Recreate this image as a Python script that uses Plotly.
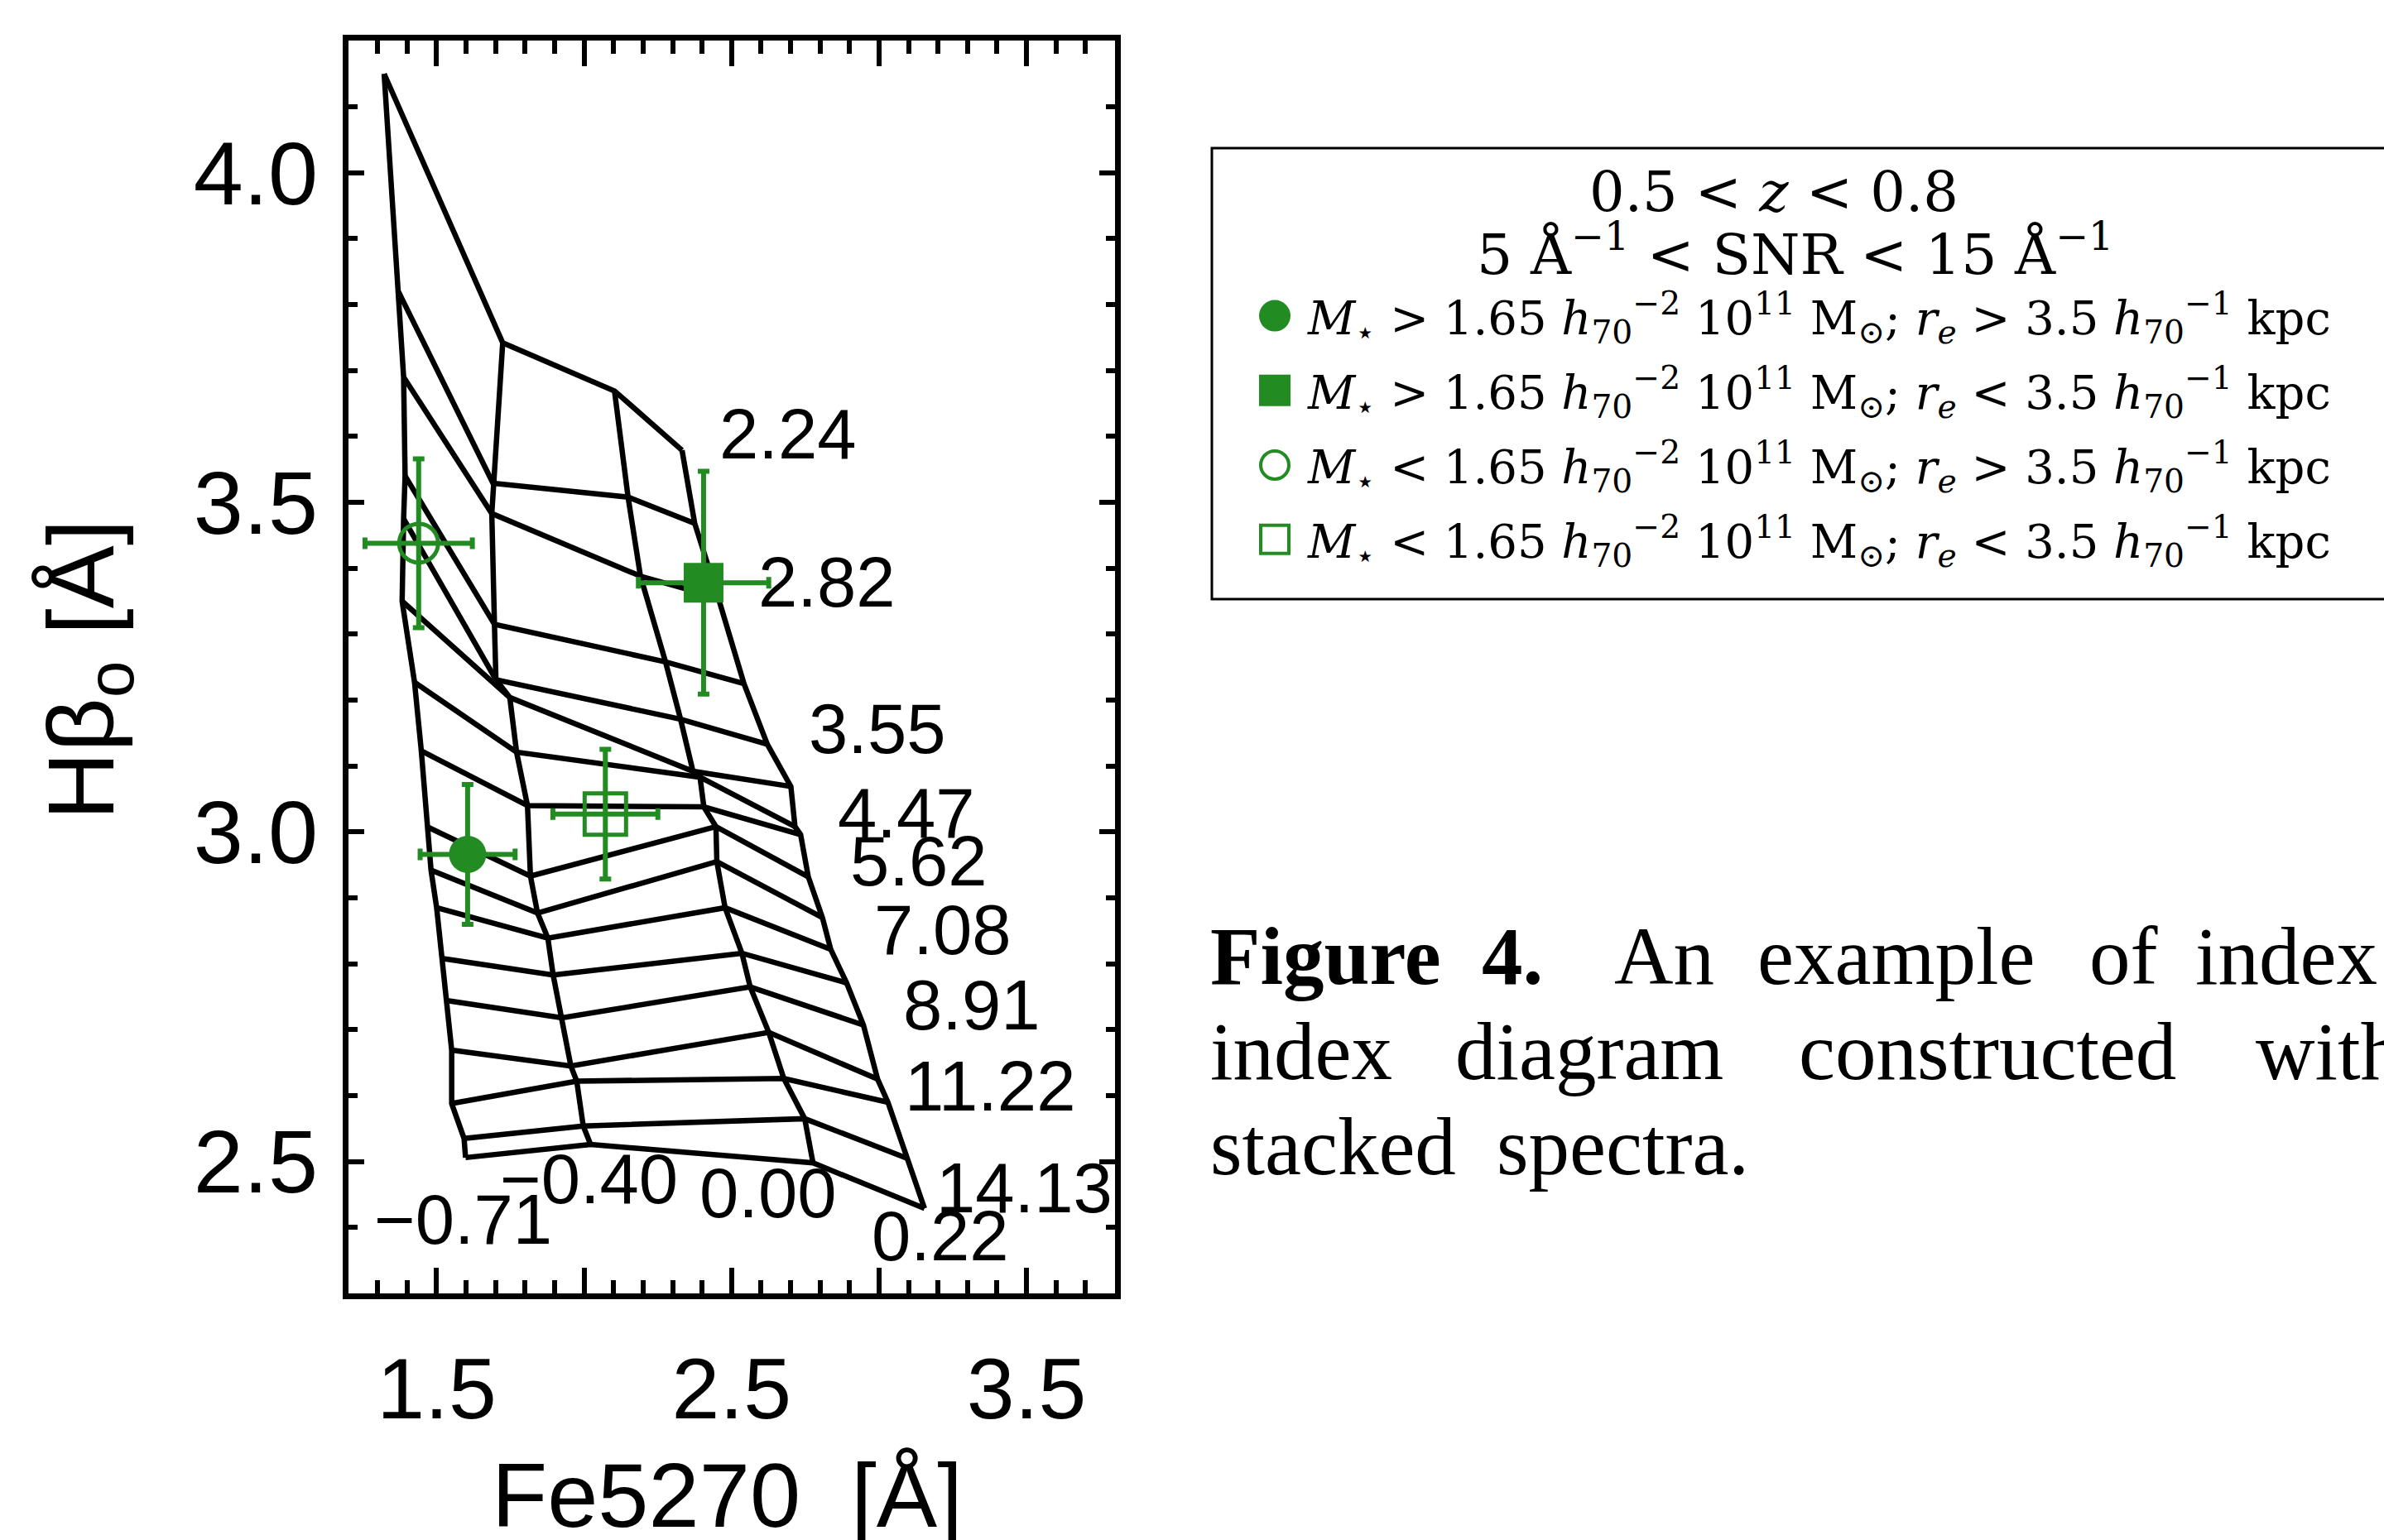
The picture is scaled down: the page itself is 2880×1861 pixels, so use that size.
import plotly.graph_objects as go

W, H = 2880, 1861

# ---------------- data ----------------
# SSP model grid: four metallicity tracks, 17 ages each (young -> old)
Z_LABELS = ["−0.71", "−0.40", "0.00", "0.22"]
FE_M071 = [1.322, 1.369, 1.388, 1.393, 1.388, 1.383, 1.425, 1.448, 1.467, 1.481, 1.500, 1.519, 1.537, 1.551, 1.551, 1.593, 1.598]
HB_M071 = [4.150, 3.821, 3.690, 3.540, 3.475, 3.350, 3.227, 3.123, 3.008, 2.942, 2.885, 2.808, 2.744, 2.669, 2.588, 2.535, 2.506]
FE_M040 = [1.724, 1.691, 1.687, 1.696, 1.701, 1.748, 1.771, 1.808, 1.818, 1.842, 1.877, 1.895, 1.925, 1.955, 1.975, 1.997, 2.022]
HB_M040 = [3.742, 3.529, 3.483, 3.315, 3.231, 3.204, 3.121, 3.040, 2.933, 2.877, 2.839, 2.783, 2.718, 2.645, 2.622, 2.554, 2.526]
FE_P000 = [2.103, 2.149, 2.191, 2.276, 2.327, 2.369, 2.393, 2.406, 2.447, 2.450, 2.478, 2.535, 2.563, 2.626, 2.677, 2.748, 2.776]
HB_P000 = [3.669, 3.508, 3.388, 3.258, 3.171, 3.092, 3.083, 3.038, 3.008, 2.955, 2.885, 2.816, 2.765, 2.696, 2.626, 2.565, 2.498]
FE_P022 = [2.332, 2.375, 2.455, 2.542, 2.621, 2.701, 2.715, 2.734, 2.760, 2.808, 2.836, 2.890, 2.947, 2.995, 3.030, 3.095, 3.154]
HB_P022 = [3.579, 3.468, 3.355, 3.225, 3.133, 3.069, 3.008, 2.996, 2.932, 2.870, 2.822, 2.771, 2.707, 2.625, 2.590, 2.505, 2.429]

# age labels (Gyr) and where they are written
AGE_LABELS = ["2.24", "2.82", "3.55", "4.47", "5.62", "7.08", "8.91", "11.22", "14.13"]
AGE_LABEL_X = [2.452, 2.586, 2.755, 2.853, 2.895, 2.979, 3.077, 3.081, 3.189]
AGE_LABEL_Y = [3.604, 3.379, 3.157, 3.029, 2.956, 2.852, 2.7375, 2.615, 2.460]
Z_LABEL_X = [1.283, 1.708, 2.385, 2.969]
Z_LABEL_Y = [2.4125, 2.474, 2.452, 2.387]

# stacked-spectra measurements
OBS_NAMES = ["big_large", "big_small", "small_large", "small_small"]
OBS_FE = [1.605, 2.405, 1.439, 2.072]
OBS_HB = [2.966, 3.378, 3.438, 3.027]
OBS_FE_ERR = [0.161, 0.221, 0.182, 0.178]
OBS_HB_ERR = [0.106, 0.169, 0.128, 0.0985]

X_TICKS = [1.5, 2.0, 2.5, 3.0, 3.5]
X_TICKTEXT = ["1.5", "", "2.5", "", "3.5"]
Y_TICKS = [2.5, 3.0, 3.5, 4.0]
Y_TICKTEXT = ["2.5", "3.0", "3.5", "4.0"]

# ---------------- styling ----------------
GREEN = "#228B22"
SANS = "Liberation Sans"
SERIF = "DejaVu Serif"
CAPSERIF = "Liberation Serif"
GRID_W = 6.5


def px_x(px):
    return px / W


def px_y(py):
    return 1 - py / H


fig = go.Figure()

columns = [(FE_M071, HB_M071), (FE_M040, HB_M040), (FE_P000, HB_P000), (FE_P022, HB_P022)]
for fe, hb in columns:
    fig.add_trace(go.Scatter(x=fe, y=hb, mode="lines",
                             line=dict(color="black", width=GRID_W),
                             showlegend=False, hoverinfo="skip"))
for i in range(len(FE_M071)):
    fig.add_trace(go.Scatter(x=[c[0][i] for c in columns], y=[c[1][i] for c in columns],
                             mode="lines", line=dict(color="black", width=GRID_W),
                             showlegend=False, hoverinfo="skip"))

symbols = ["circle", "square", "circle-open", "square-open"]
sizes = [45, 48, 47, 50]
for k in range(4):
    fig.add_trace(go.Scatter(
        x=[OBS_FE[k]], y=[OBS_HB[k]], mode="markers", name=OBS_NAMES[k],
        marker=dict(symbol=symbols[k], size=sizes[k], color=GREEN,
                    line=dict(color=GREEN, width=5 if "open" in symbols[k] else 0)),
        error_x=dict(type="data", array=[OBS_FE_ERR[k]], color=GREEN, thickness=6, width=7),
        error_y=dict(type="data", array=[OBS_HB_ERR[k]], color=GREEN, thickness=6, width=7),
        showlegend=False, hoverinfo="skip"))

annotations = []
for txt, x, y in zip(AGE_LABELS, AGE_LABEL_X, AGE_LABEL_Y):
    annotations.append(dict(x=x, y=y, xref="x", yref="y", text=txt, showarrow=False,
                            xanchor="left", yanchor="middle",
                            font=dict(family=SANS, size=85, color="black")))
for txt, x, y in zip(Z_LABELS, Z_LABEL_X, Z_LABEL_Y):
    annotations.append(dict(x=x, y=y, xref="x", yref="y", text=txt, showarrow=False,
                            xanchor="left", yanchor="middle",
                            font=dict(family=SANS, size=85, color="black")))

# axis titles
annotations.append(dict(x=px_x(878), y=px_y(1806), xref="paper", yref="paper",
                        text="Fe5270\u00a0\u00a0[Å]", showarrow=False, xanchor="center", yanchor="middle",
                        font=dict(family=SANS, size=110, color="black")))
annotations.append(dict(x=px_x(106), y=px_y(810), xref="paper", yref="paper",
                        text="Hβ<sub>o</sub>\u00a0[Å]", showarrow=False, textangle=-90,
                        xanchor="center", yanchor="middle",
                        font=dict(family=SANS, size=114, color="black")))

# legend box content
annotations.append(dict(x=px_x(2143), y=px_y(232), xref="paper", yref="paper",
                        text="0.5 < <i>z</i> < 0.8", showarrow=False,
                        xanchor="center", yanchor="middle",
                        font=dict(family=SERIF, size=67, color="black")))
annotations.append(dict(x=px_x(2168), y=px_y(303), xref="paper", yref="paper",
                        text="5 Å<sup>−1</sup> < SNR < 15 Å<sup>−1</sup>", showarrow=False,
                        xanchor="center", yanchor="middle",
                        font=dict(family=SERIF, size=68, color="black")))
entry_texts = [
    "<i>M</i><sub>⋆</sub> > 1.65 <i>h</i><sub>70</sub><sup>−2</sup> 10<sup>11</sup> M<sub>⊙</sub>; <i>r<sub>e</sub></i> > 3.5 <i>h</i><sub>70</sub><sup>−1</sup> kpc",
    "<i>M</i><sub>⋆</sub> > 1.65 <i>h</i><sub>70</sub><sup>−2</sup> 10<sup>11</sup> M<sub>⊙</sub>; <i>r<sub>e</sub></i> < 3.5 <i>h</i><sub>70</sub><sup>−1</sup> kpc",
    "<i>M</i><sub>⋆</sub> < 1.65 <i>h</i><sub>70</sub><sup>−2</sup> 10<sup>11</sup> M<sub>⊙</sub>; <i>r<sub>e</sub></i> > 3.5 <i>h</i><sub>70</sub><sup>−1</sup> kpc",
    "<i>M</i><sub>⋆</sub> < 1.65 <i>h</i><sub>70</sub><sup>−2</sup> 10<sup>11</sup> M<sub>⊙</sub>; <i>r<sub>e</sub></i> < 3.5 <i>h</i><sub>70</sub><sup>−1</sup> kpc",
]
entry_y = [384, 474, 564, 654]
for txt, yy in zip(entry_texts, entry_y):
    annotations.append(dict(x=px_x(1577), y=px_y(yy), xref="paper", yref="paper",
                            text=txt, showarrow=False, xanchor="left", yanchor="middle",
                            font=dict(family=SERIF, size=56, color="black")))

# caption (justified words)
caption = [
    [("<b>Figure</b>", 1460), ("<b>4.</b>", 1788), ("An", 1948), ("example", 2121), ("of", 2522), ("index", 2650)],
    [("index", 1460), ("diagram", 1756), ("constructed", 2171), ("with", 2723)],
    [("stacked", 1460), ("spectra.", 1806)],
]
cap_y = [1155, 1270, 1385]
for words, yy in zip(caption, cap_y):
    for w, xx in words:
        annotations.append(dict(x=px_x(xx), y=px_y(yy), xref="paper", yref="paper",
                                text=w, showarrow=False, xanchor="left", yanchor="middle",
                                font=dict(family=CAPSERIF, size=99, color="black")))

shapes = []
# legend frame (right side runs off the page)
shapes.append(dict(type="rect", xref="paper", yref="paper",
                   x0=px_x(1464), x1=px_x(2960), y0=px_y(724), y1=px_y(179),
                   line=dict(color="black", width=3), fillcolor="rgba(0,0,0,0)"))
# legend symbols
leg_cy = [381.6, 471.8, 562.0, 651.8]
r = 19
for k, cy in enumerate(leg_cy):
    kind = "circle" if "circle" in symbols[k] else "rect"
    filled = "open" not in symbols[k]
    inset = 0 if filled else 2
    shapes.append(dict(type=kind, xref="paper", yref="paper",
                       x0=px_x(1540 - r + inset), x1=px_x(1540 + r - inset),
                       y0=px_y(cy + r - inset), y1=px_y(cy - r + inset),
                       line=dict(color=GREEN, width=0 if filled else 4),
                       fillcolor=GREEN if filled else "rgba(0,0,0,0)"))

axis_common = dict(showline=True, linecolor="black", linewidth=7, mirror="allticks",
                   ticks="inside", tickcolor="black", tickwidth=6,
                   showgrid=False, zeroline=False, tickmode="array")

fig.update_layout(
    width=W, height=H, margin=dict(l=0, r=0, t=0, b=0),
    paper_bgcolor="white", plot_bgcolor="white", showlegend=False,
    xaxis=dict(range=[1.2, 3.8], domain=[420.6 / W, 1347 / W],
               tickvals=X_TICKS, ticktext=X_TICKTEXT, ticklen=31,
               tickfont=dict(family=SANS, size=104, color="black"),
               ticklabelstandoff=19,
               minor=dict(ticks="inside", ticklen=16, tickwidth=6, tickcolor="black",
                          tickmode="linear", tick0=0, dtick=0.1),
               **axis_common),
    yaxis=dict(range=[2.3, 4.2], domain=[1 - 1563 / H, 1 - 49.4 / H],
               tickvals=Y_TICKS, ticktext=Y_TICKTEXT, ticklen=19,
               tickfont=dict(family=SANS, size=108, color="black"),
               ticklabelstandoff=8,
               minor=dict(ticks="inside", ticklen=11, tickwidth=6, tickcolor="black",
                          tickmode="linear", tick0=0, dtick=0.1),
               **axis_common),
    annotations=annotations,
    shapes=shapes,
)

fig.write_html("out.html", config={"displayModeBar": False},
               post_script="document.body.style.margin='0px';document.body.style.padding='0px';")
